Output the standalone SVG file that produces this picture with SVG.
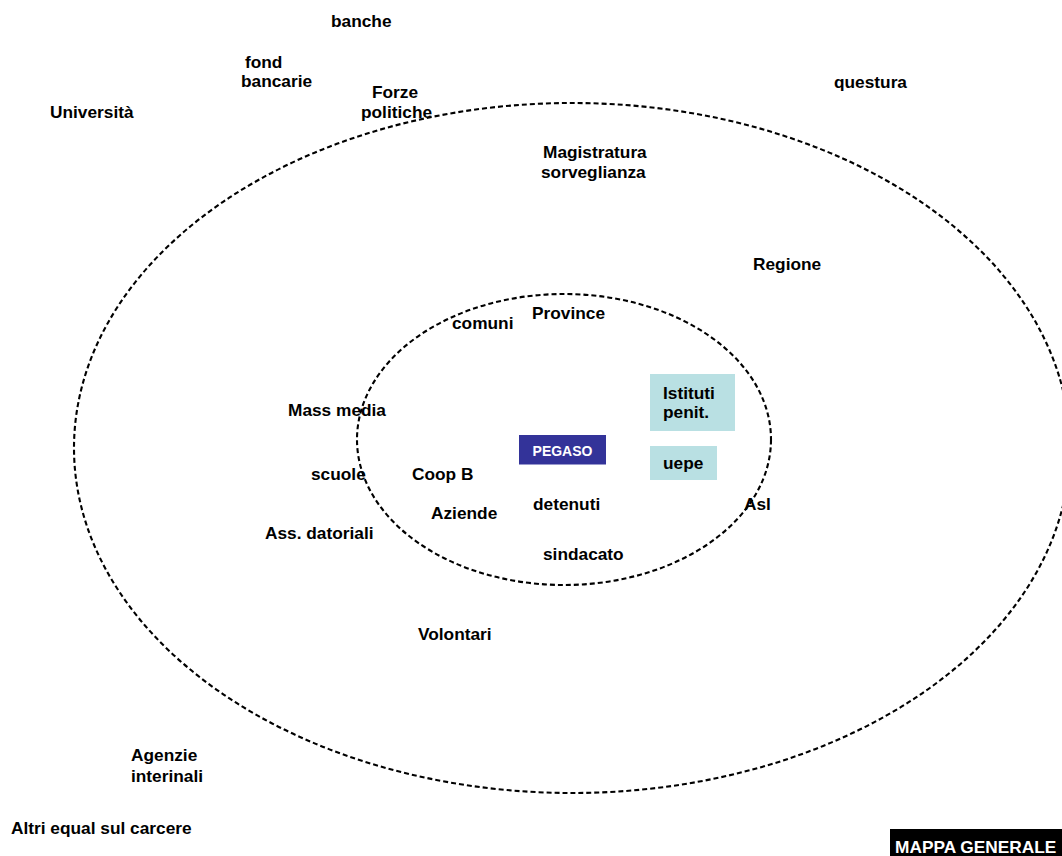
<svg xmlns="http://www.w3.org/2000/svg" width="1062" height="856" viewBox="0 0 1062 856">
<style>
.t{font-family:"Liberation Sans",Arial,sans-serif;font-weight:bold;font-size:17.3px;fill:#000}
.w{fill:#fff}
.ring{fill:none;stroke:#000;stroke-width:2.1;stroke-dasharray:5 3}
</style>
<rect width="1062" height="856" fill="#fff"/>
<g id="rings">
<ellipse id="outer" class="ring" cx="572" cy="448" rx="498" ry="345"/>
<ellipse id="inner" class="ring" cx="564" cy="439.5" rx="207" ry="145.5"/>
</g>
<g id="connectors"/>
<g id="banche"><text class="t" x="331" y="27">banche</text></g>
<g id="fond"><text class="t" x="245" y="68">fond</text><text class="t" x="241" y="87">bancarie</text></g>
<g id="forze"><text class="t" x="372" y="98">Forze</text><text class="t" x="361" y="118">politiche</text></g>
<g id="universita"><text class="t" x="50" y="118">Università</text></g>
<g id="questura"><text class="t" x="834" y="88">questura</text></g>
<g id="magistratura"><text class="t" x="543" y="158">Magistratura</text><text class="t" x="541" y="178">sorveglianza</text></g>
<g id="regione"><text class="t" x="753" y="270">Regione</text></g>
<g id="comuni"><text class="t" x="452" y="329">comuni</text></g>
<g id="province"><text class="t" x="532" y="319">Province</text></g>
<g id="massmedia"><text class="t" x="288" y="416">Mass media</text></g>
<g id="istituti"><rect x="650" y="374" width="85" height="57" fill="#b9e0e3"/><text class="t" x="663" y="399">Istituti</text><text class="t" x="663" y="418">penit.</text></g>
<g id="pegaso"><rect x="519" y="435" width="87" height="29.5" fill="#333399"/><text class="t w" x="562.5" y="456" text-anchor="middle" style="font-size:14px">PEGASO</text></g>
<g id="uepe"><rect x="650" y="446" width="67" height="34" fill="#b9e0e3"/><text class="t" x="663" y="469">uepe</text></g>
<g id="scuole"><text class="t" x="311" y="480">scuole</text></g>
<g id="coopb"><text class="t" x="412" y="480">Coop B</text></g>
<g id="aziende"><text class="t" x="431" y="519">Aziende</text></g>
<g id="detenuti"><text class="t" x="533" y="510">detenuti</text></g>
<g id="asl"><text class="t" x="744" y="510">Asl</text></g>
<g id="assdatoriali"><text class="t" x="265" y="539">Ass. datoriali</text></g>
<g id="sindacato"><text class="t" x="543" y="560">sindacato</text></g>
<g id="volontari"><text class="t" x="418" y="640">Volontari</text></g>
<g id="agenzie"><text class="t" x="131" y="761">Agenzie</text><text class="t" x="131" y="782">interinali</text></g>
<g id="altri"><text class="t" x="11" y="834">Altri equal sul carcere</text></g>
<g id="mappa"><rect x="890" y="829" width="172" height="27" fill="#000"/><text class="t w" x="895" y="853">MAPPA GENERALE</text></g>
</svg>
